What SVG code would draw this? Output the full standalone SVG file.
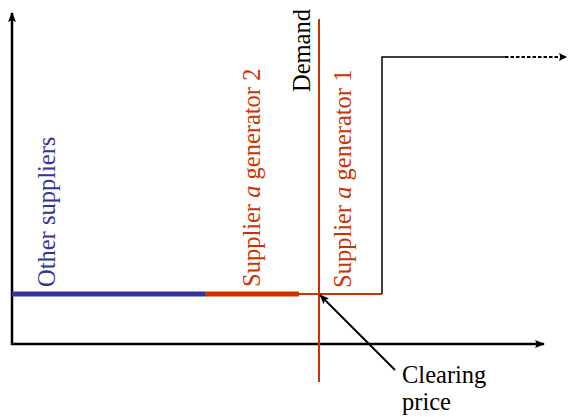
<svg xmlns="http://www.w3.org/2000/svg" width="568" height="417" viewBox="0 0 568 417">
<style>
.t{font-family:"Liberation Serif","Times New Roman",serif;font-size:24.5px}
.blue{fill:#333399}
.red{fill:#CC3300}
.blk{fill:#000}
</style>
<defs>
<marker id="ah" markerWidth="10" markerHeight="8" refX="9" refY="4" orient="auto" markerUnits="userSpaceOnUse">
<path d="M0,0 L10,4 L0,8 L2,4 Z" fill="#000"/>
</marker>
<marker id="ahs" markerWidth="8" markerHeight="8" refX="7" refY="4" orient="auto" markerUnits="userSpaceOnUse">
<path d="M0,0 L8,4 L0,8 L1.5,4 Z" fill="#000"/>
</marker>
</defs>
<rect width="568" height="417" fill="#fff"/>
<g id="connectors">
<line id="y-axis" x1="12" y1="345" x2="12" y2="13" stroke="#000" stroke-width="2.5" marker-end="url(#ah)"/>
<line id="x-axis" x1="11" y1="344" x2="544" y2="344" stroke="#000" stroke-width="2.5" marker-end="url(#ah)"/>
<line id="other-supply" x1="12" y1="294" x2="205" y2="294" stroke="#333399" stroke-width="5"/>
<line id="gen2-supply" x1="205" y1="294" x2="299" y2="294" stroke="#CC3300" stroke-width="5"/>
<line id="gen1-supply" x1="299" y1="294" x2="382" y2="294" stroke="#CC3300" stroke-width="2"/>
<polyline id="step" points="382,294 382,57 505,57" fill="none" stroke="#000" stroke-width="1.5"/>
<line id="dashed" x1="505" y1="57" x2="566" y2="57" stroke="#000" stroke-width="2" stroke-dasharray="3.5,2" marker-end="url(#ahs)"/>
<line id="demand" x1="319" y1="19" x2="319" y2="382" stroke="#CC3300" stroke-width="2"/>
<line id="clearing-arrow" x1="395" y1="370" x2="320" y2="295" stroke="#000" stroke-width="2" marker-end="url(#ah)"/>
</g>
<g id="label-other">
<text class="t blue" transform="translate(55,287) rotate(-90)">Other suppliers</text>
</g>
<g id="label-gen2">
<text class="t red" transform="translate(260,287) rotate(-90)">Supplier <tspan font-style="italic">a</tspan> generator 2</text>
</g>
<g id="label-demand">
<text class="t blk" transform="translate(310,92) rotate(-90)">Demand</text>
</g>
<g id="label-gen1">
<text class="t red" transform="translate(351,288) rotate(-90)">Supplier <tspan font-style="italic">a</tspan> generator 1</text>
</g>
<g id="label-clearing">
<text class="t blk" x="402" y="383">Clearing</text>
<text class="t blk" x="402" y="410">price</text>
</g>
</svg>
